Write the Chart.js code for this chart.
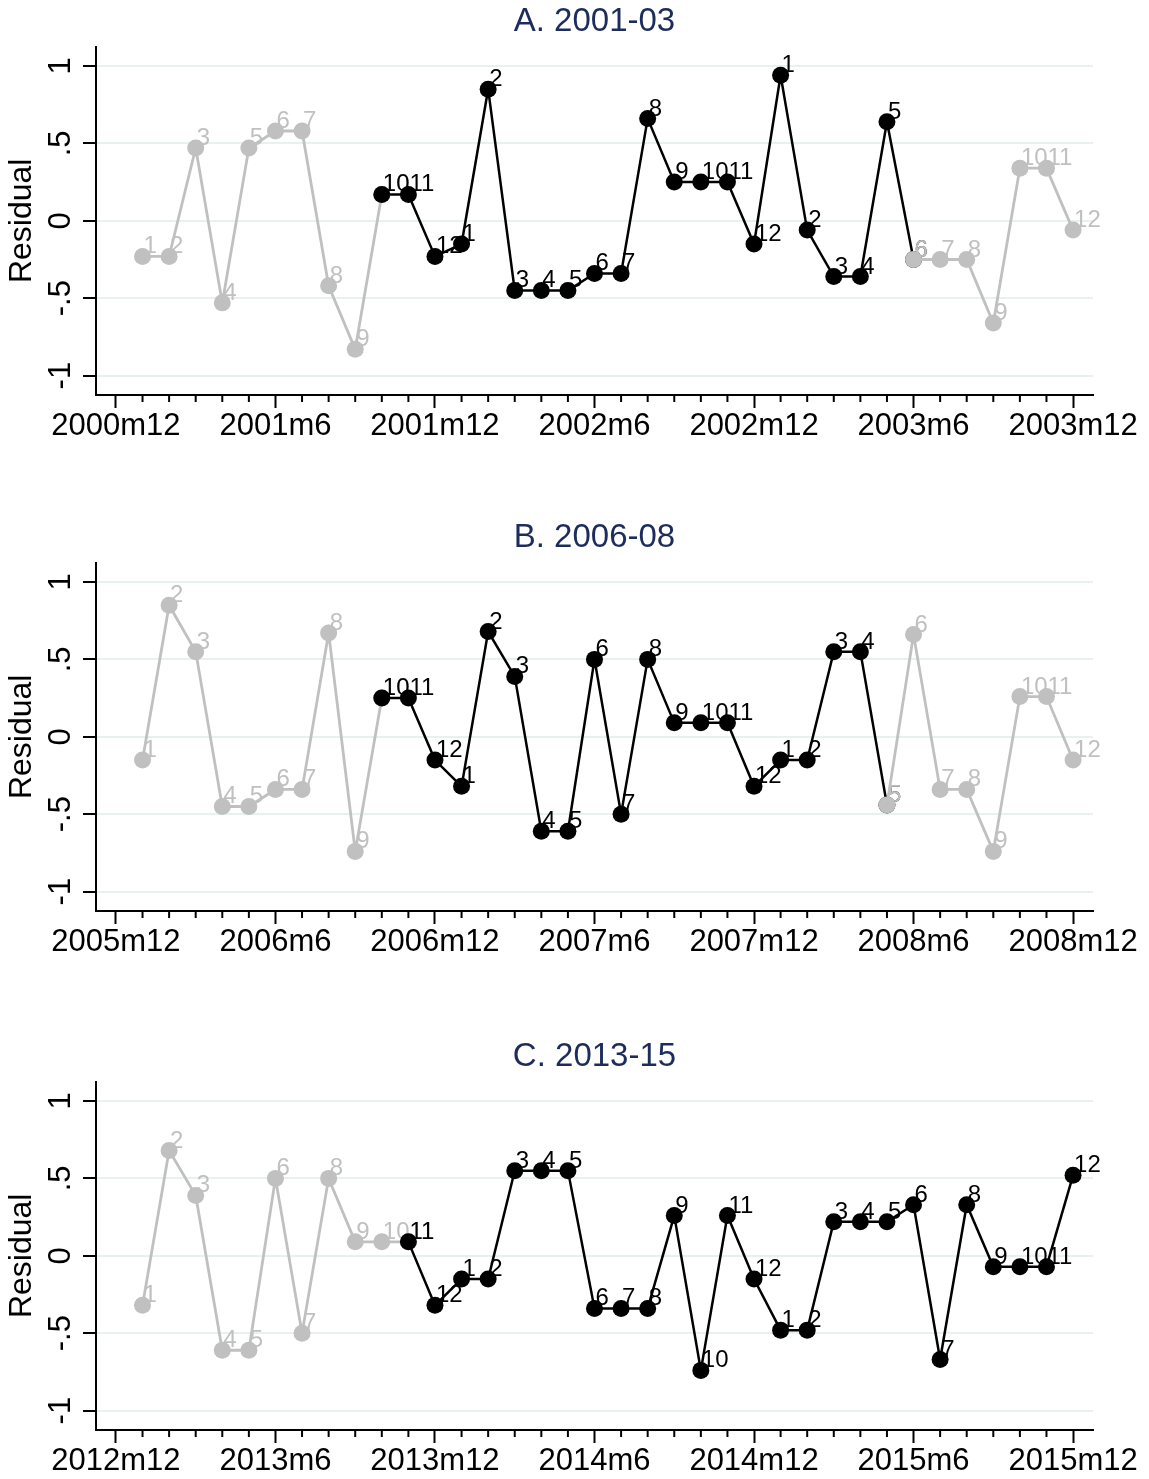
<!DOCTYPE html>
<html>
<head>
<meta charset="utf-8">
<script src="https://cdn.jsdelivr.net/npm/chart.js@4.4.1/dist/chart.umd.min.js"></script>
<style>
  body { margin: 0; background: #fff; overflow: hidden; }
  .panel { position: absolute; left: 0; }
</style>
</head>
<body>
<div class="panel" style="top:0px"><canvas id="panelA" width="1149" height="444"></canvas></div>
<div class="panel" style="top:516px"><canvas id="panelB" width="1149" height="444"></canvas></div>
<div class="panel" style="top:1035px"><canvas id="panelC" width="1149" height="444"></canvas></div>
<script>
// residuals, one per month (index 1 = January of the first year)
const residualsA = [
  -0.23, -0.23, 0.47, -0.53, 0.47, 0.58, 0.58, -0.42, -0.83, 0.17, 0.17, -0.23,
  -0.15, 0.85, -0.45, -0.45, -0.45, -0.34, -0.34, 0.66, 0.25, 0.25, 0.25, -0.15,
  0.94, -0.06, -0.36, -0.36, 0.64, -0.25, -0.25, -0.25, -0.66, 0.34, 0.34, -0.06
];
const residualsB = [
  -0.15, 0.85, 0.55, -0.45, -0.45, -0.34, -0.34, 0.67, -0.74, 0.25, 0.25, -0.15,
  -0.32, 0.68, 0.39, -0.61, -0.61, 0.50, -0.50, 0.50, 0.09, 0.09, 0.09, -0.32,
  -0.15, -0.15, 0.55, 0.55, -0.44, 0.66, -0.34, -0.34, -0.74, 0.26, 0.26, -0.15
];
const residualsC = [
  -0.32, 0.68, 0.39, -0.61, -0.61, 0.50, -0.50, 0.50, 0.09, 0.09, 0.09, -0.32,
  -0.15, -0.15, 0.55, 0.55, 0.55, -0.34, -0.34, -0.34, 0.26, -0.74, 0.26, -0.15,
  -0.48, -0.48, 0.22, 0.22, 0.22, 0.33, -0.67, 0.33, -0.07, -0.07, -0.07, 0.52
];

// first and last month of the black stretch
const highlightA = [10, 30];
const highlightB = [10, 29];
const highlightC = [11, 36];

const xTickValues = [0, 6, 12, 18, 24, 30, 36];
const xTicksA = ['2000m12', '2001m6', '2001m12', '2002m6', '2002m12', '2003m6', '2003m12'];
const xTicksB = ['2005m12', '2006m6', '2006m12', '2007m6', '2007m12', '2008m6', '2008m12'];
const xTicksC = ['2012m12', '2013m6', '2013m12', '2014m6', '2014m12', '2015m6', '2015m12'];

const yTickValues = [-1, -0.5, 0, 0.5, 1];
const yTickLabels = ['-1', '-.5', '0', '.5', '1'];

const FONT = '"Liberation Sans", Arial, sans-serif';
const GREY = '#c0c0c0';
const BLACK = '#000000';

Chart.defaults.font.family = FONT;

// small monthly ticks between the labelled ones
const minorTicks = {
  id: 'minorTicks',
  afterDraw(chart) {
    const xs = chart.scales.x;
    const ctx = chart.ctx;
    ctx.save();
    ctx.strokeStyle = BLACK;
    ctx.lineWidth = 2;
    for (let m = 1; m < 36; m++) {
      if (m % 6 === 0) continue;
      const px = xs.getPixelForValue(m);
      ctx.beginPath();
      ctx.moveTo(px, xs.top);
      ctx.lineTo(px, xs.top + 7);
      ctx.stroke();
    }
    ctx.restore();
  }
};

// month number next to each marker
const pointLabels = {
  id: 'pointLabels',
  afterDatasetDraw(chart, args) {
    const ds = chart.data.datasets[args.index];
    const ctx = chart.ctx;
    ctx.save();
    ctx.font = '24px ' + FONT;
    ctx.fillStyle = ds.borderColor;
    ctx.textAlign = 'left';
    ctx.textBaseline = 'alphabetic';
    args.meta.data.forEach((pt, i) => {
      const month = ((ds.data[i].x - 1) % 12) + 1;
      ctx.fillText(String(month), pt.x + 1, pt.y - 3);
    });
    ctx.restore();
  }
};

function slice(residuals, from, to) {
  const pts = [];
  for (let m = from; m <= to; m++) pts.push({ x: m, y: residuals[m - 1] });
  return pts;
}

function series(data, color, order) {
  return {
    data: data,
    borderColor: color,
    backgroundColor: color,
    pointBackgroundColor: color,
    borderWidth: color === GREY ? 2.8 : 2.5,
    pointRadius: 8.5,
    pointBorderWidth: 0,
    tension: 0,
    order: order
  };
}

function makeChart(id, title, residuals, xLabels, highlight) {
  const datasets = [
    series(slice(residuals, 1, highlight[0]), GREY, 3),
    series(slice(residuals, highlight[0], highlight[1]), BLACK, 2)
  ];
  if (highlight[1] < residuals.length) {
    datasets.push(series(slice(residuals, highlight[1], residuals.length), GREY, 1));
  }

  return new Chart(document.getElementById(id).getContext('2d'), {
    type: 'line',
    data: { datasets },
    options: {
      responsive: false,
      animation: false,
      layout: { padding: { left: 0, right: 56, top: 0, bottom: 0 } },
      plugins: {
        legend: { display: false },
        tooltip: { enabled: false },
        title: {
          display: true,
          text: title,
          color: '#1c2c5b',
          fullSize: false,
          font: { size: 33, weight: 'normal', lineHeight: 1.2 },
          padding: { top: 2, bottom: 5 }
        }
      },
      scales: {
        x: {
          type: 'linear',
          min: -0.75,
          max: 36.75,
          afterBuildTicks: (s) => { s.ticks = xTickValues.map(v => ({ value: v })); },
          afterFit: (s) => { s.height = 49; s.paddingLeft = 0; s.paddingRight = 0; },
          ticks: {
            callback: (v, i) => xLabels[i],
            color: BLACK,
            font: { size: 31 },
            padding: 0,
            autoSkip: false,
            maxRotation: 0
          },
          grid: { drawOnChartArea: false, drawTicks: true, tickLength: 13, tickWidth: 2, tickColor: BLACK },
          border: { display: true, color: BLACK, width: 2 }
        },
        y: {
          min: -1.125,
          max: 1.125,
          afterBuildTicks: (s) => { s.ticks = yTickValues.map(v => ({ value: v })); },
          afterFit: (s) => { s.width = 96; s.paddingTop = 0; s.paddingBottom = 0; },
          ticks: {
            callback: (v, i) => yTickLabels[i],
            color: BLACK,
            font: { size: 31 },
            minRotation: 90,
            maxRotation: 90,
            crossAlign: 'center',
            padding: 3
          },
          grid: { color: '#e8f0f2', lineWidth: 2, drawTicks: true, tickLength: 13, tickWidth: 2, tickColor: BLACK },
          border: { display: true, color: BLACK, width: 2 },
          title: { display: true, text: 'Residual', color: BLACK, font: { size: 32 }, padding: { top: 3, bottom: 0 } }
        }
      }
    },
    plugins: [minorTicks, pointLabels]
  });
}

makeChart('panelA', 'A. 2001-03', residualsA, xTicksA, highlightA);
makeChart('panelB', 'B. 2006-08', residualsB, xTicksB, highlightB);
makeChart('panelC', 'C. 2013-15', residualsC, xTicksC, highlightC);
</script>
</body>
</html>
